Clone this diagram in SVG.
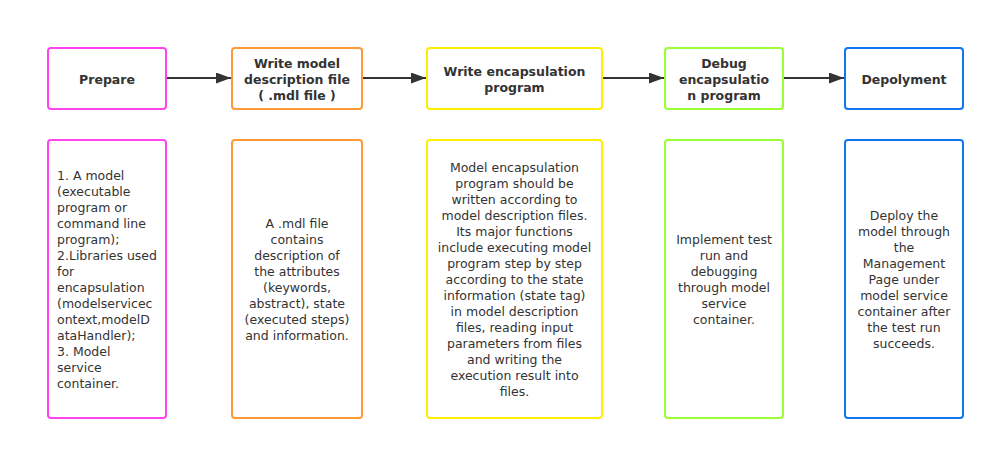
<svg xmlns="http://www.w3.org/2000/svg" width="995" height="450" viewBox="0 0 995 450">
<style>
.box{fill:#fff;stroke-width:2}
.t{font-family:"DejaVu Sans","Liberation Sans",sans-serif;font-size:12.5px;fill:#333}
.b{font-weight:bold;text-anchor:middle}
.c{text-anchor:middle}
.e{stroke:#333;stroke-width:2;fill:none;marker-end:url(#ah)}
</style>
<defs>
<marker id="ah" markerWidth="15" markerHeight="11" refX="15" refY="5.5" orient="auto" markerUnits="userSpaceOnUse">
<path d="M0,0 L15,5.5 L0,11 Z" fill="#333"/>
</marker>
</defs>
<rect width="995" height="450" fill="#fff"/>
<g id="connectors">
<line class="e" x1="167" y1="78" x2="231" y2="78"/>
<line class="e" x1="363" y1="78" x2="426" y2="78"/>
<line class="e" x1="603" y1="78" x2="664" y2="78"/>
<line class="e" x1="784" y1="78" x2="844" y2="78"/>
</g>
<g id="prepare">
<rect class="box" x="48" y="48" width="118" height="61" rx="3" stroke="#f4e"/>
<text class="t b" x="107" y="84">Prepare</text>
</g>
<g id="write-model">
<rect class="box" x="232" y="48" width="130" height="61" rx="3" stroke="#f93"/>
<text class="t b" x="297" y="68">Write model</text>
<text class="t b" x="297" y="84">description file</text>
<text class="t b" x="297" y="100">( .mdl file )</text>
</g>
<g id="write-encap">
<rect class="box" x="427" y="48" width="175" height="61" rx="3" stroke="#fe0"/>
<text class="t b" x="514.5" y="76">Write encapsulation</text>
<text class="t b" x="514.5" y="92">program</text>
</g>
<g id="debug">
<rect class="box" x="665" y="48" width="118" height="61" rx="3" stroke="#9f3"/>
<text class="t b" x="724" y="68">Debug</text>
<text class="t b" x="724" y="84">encapsulatio</text>
<text class="t b" x="724" y="100">n program</text>
</g>
<g id="deploy">
<rect class="box" x="845" y="48" width="118" height="61" rx="3" stroke="#17e"/>
<text class="t b" x="904" y="84">Depolyment</text>
</g>
<g id="prepare-desc">
<rect class="box" x="48" y="140" width="118" height="278" rx="3" stroke="#f4e"/>
<text class="t" x="57" y="180">1. A model</text>
<text class="t" x="57" y="196">(executable</text>
<text class="t" x="57" y="212">program or</text>
<text class="t" x="57" y="228">command line</text>
<text class="t" x="57" y="244">program);</text>
<text class="t" x="57" y="260">2.Libraries used</text>
<text class="t" x="57" y="276">for</text>
<text class="t" x="57" y="292">encapsulation</text>
<text class="t" x="57" y="308">(modelservicec</text>
<text class="t" x="57" y="324">ontext,modelD</text>
<text class="t" x="57" y="340">ataHandler);</text>
<text class="t" x="57" y="356">3. Model</text>
<text class="t" x="57" y="372">service</text>
<text class="t" x="57" y="388">container.</text>
</g>
<g id="write-model-desc">
<rect class="box" x="232" y="140" width="130" height="278" rx="3" stroke="#f93"/>
<text class="t c" x="297" y="228">A .mdl file</text>
<text class="t c" x="297" y="244">contains</text>
<text class="t c" x="297" y="260">description of</text>
<text class="t c" x="297" y="276">the attributes</text>
<text class="t c" x="297" y="292">(keywords,</text>
<text class="t c" x="297" y="308">abstract), state</text>
<text class="t c" x="297" y="324">(executed steps)</text>
<text class="t c" x="297" y="340">and information.</text>
</g>
<g id="write-encap-desc">
<rect class="box" x="427" y="140" width="175" height="278" rx="3" stroke="#fe0"/>
<text class="t c" x="514.5" y="172">Model encapsulation</text>
<text class="t c" x="514.5" y="188">program should be</text>
<text class="t c" x="514.5" y="204">written according to</text>
<text class="t c" x="514.5" y="220">model description files.</text>
<text class="t c" x="514.5" y="236">Its major functions</text>
<text class="t c" x="514.5" y="252">include executing model</text>
<text class="t c" x="514.5" y="268">program step by step</text>
<text class="t c" x="514.5" y="284">according to the state</text>
<text class="t c" x="514.5" y="300">information (state tag)</text>
<text class="t c" x="514.5" y="316">in model description</text>
<text class="t c" x="514.5" y="332">files, reading input</text>
<text class="t c" x="514.5" y="348">parameters from files</text>
<text class="t c" x="514.5" y="364">and writing the</text>
<text class="t c" x="514.5" y="380">execution result into</text>
<text class="t c" x="514.5" y="396">files.</text>
</g>
<g id="debug-desc">
<rect class="box" x="665" y="140" width="118" height="278" rx="3" stroke="#9f3"/>
<text class="t c" x="724" y="244">Implement test</text>
<text class="t c" x="724" y="260">run and</text>
<text class="t c" x="724" y="276">debugging</text>
<text class="t c" x="724" y="292">through model</text>
<text class="t c" x="724" y="308">service</text>
<text class="t c" x="724" y="324">container.</text>
</g>
<g id="deploy-desc">
<rect class="box" x="845" y="140" width="118" height="278" rx="3" stroke="#17e"/>
<text class="t c" x="904" y="220">Deploy the</text>
<text class="t c" x="904" y="236">model through</text>
<text class="t c" x="904" y="252">the</text>
<text class="t c" x="904" y="268">Management</text>
<text class="t c" x="904" y="284">Page under</text>
<text class="t c" x="904" y="300">model service</text>
<text class="t c" x="904" y="316">container after</text>
<text class="t c" x="904" y="332">the test run</text>
<text class="t c" x="904" y="348">succeeds.</text>
</g>
</svg>
